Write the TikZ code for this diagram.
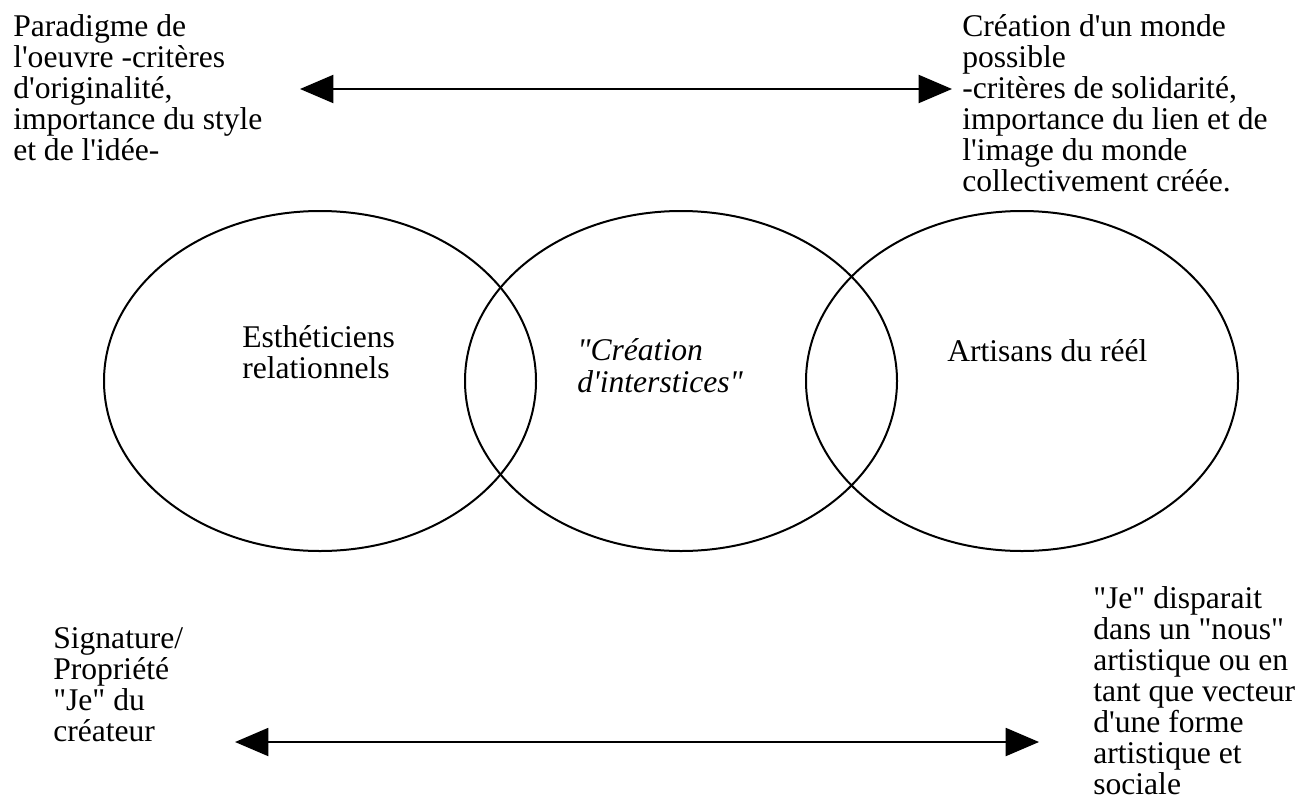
\documentclass[tikz,border=0pt]{standalone}
\usepackage{fontspec}
\usetikzlibrary{arrows.meta}
\newfontfamily\timesfont{Liberation Serif}
\begin{document}
\begin{tikzpicture}[x=0.75pt, y=-0.75pt,
  venn/.style={line width=1.5pt},
  biarrow/.style={line width=1.5pt, {Triangle[length=25pt,width=21pt]}-{Triangle[length=25pt,width=21pt]}},
  txt/.style={inner sep=0pt, align=left, anchor=north west, font=\timesfont\fontsize{23.7}{23.3}\selectfont}]

% Page frame
\useasboundingbox (0,0) rectangle (1316,804);

% Three overlapping ellipses
\draw[venn] (320,381) ellipse [x radius=162pt, y radius=127.5pt];
\draw[venn] (681,381) ellipse [x radius=162pt, y radius=127.5pt];
\draw[venn] (1022,381) ellipse [x radius=162pt, y radius=127.5pt];

% Labels inside the ellipses
\node[txt] (esth) at (242,325) {Esthéticiens\\relationnels};
\node[txt, font=\timesfont\itshape\fontsize{23.7}{24}\selectfont] (inter) at (577,338) {"Création\\d'interstices"};
\node[txt, anchor=base west] (artisans) at (947,361) {Artisans du réél};

% Upper axis
\node[txt] (oeuvre) at (13,14) {Paradigme de\\l'oeuvre -critères\\d'originalité,\\importance du style\\et de l'idée-};
\node[txt] (monde) at (962,14) {Création d'un monde\\possible\\-critères de solidarité,\\importance du lien et de\\l'image du monde\\collectivement créée.};
\coordinate (top-l) at (300,89);
\coordinate (top-r) at (952,89);
\draw[biarrow] (top-l) -- (top-r);

% Lower axis
\node[txt] (signature) at (53,627) {Signature/\\Propriété\\"Je" du\\créateur};
\node[txt] (nous) at (1093,586) {"Je" disparait\\dans un "nous"\\artistique ou en\\tant que vecteur\\d'une forme\\artistique et\\sociale};
\coordinate (bot-l) at (235,742);
\coordinate (bot-r) at (1039,742);
\draw[biarrow] (bot-l) -- (bot-r);

\end{tikzpicture}
\end{document}
